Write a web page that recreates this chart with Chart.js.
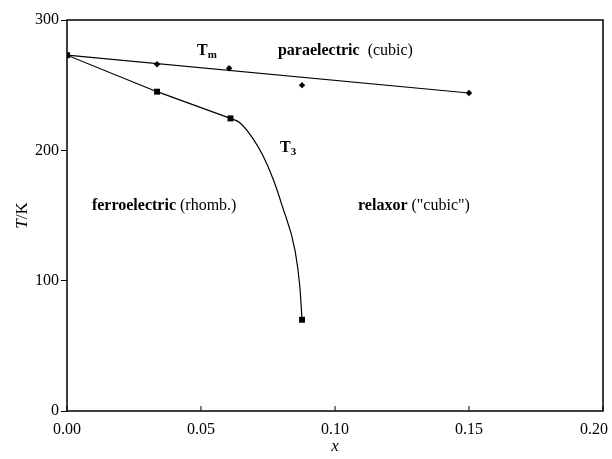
<!DOCTYPE html>
<html>
<head>
<meta charset="utf-8">
<script src="https://cdn.jsdelivr.net/npm/chart.js@4/dist/chart.umd.min.js"></script>
<style>
  html, body { margin: 0; padding: 0; background: #fff; }
  #wrap { width: 612px; height: 459px; }
</style>
</head>
<body>
<div id="wrap"><canvas id="c" width="612" height="459"></canvas></div>
<script>
// Composition x and transition temperatures (K)
const tmX = [0, 0.0336, 0.0605, 0.0877, 0.150];
const tmT = [273, 266, 263, 250, 244];

// Linear fit through the T_m data
const tmFitX = [0, 0.150];
const tmFitT = [273, 244];

const t3X = [0, 0.0336, 0.061, 0.0877];
const t3T = [273, 245, 224.5, 70];

// Smooth T_3 branch between the last two measured points
const t3CurveX = [0.061, 0.0646, 0.0694, 0.0731, 0.0769, 0.0802, 0.0851, 0.0869, 0.0877];
const t3CurveT = [224.5, 221, 209, 196, 178, 158, 123, 95, 70];

const xTicks = [0, 0.05, 0.10, 0.15, 0.20];
const xTickLabels = ['0.00', '0.05', '0.10', '0.15', '0.20'];
const yTicks = [0, 100, 200, 300];

const SERIF = '"Liberation Serif", "Times New Roman", serif';

const pts = (xs, ys) => xs.map((x, i) => ({ x: x, y: ys[i] }));

// Region labels anchored in data coordinates
const regionLabels = [
  { x: 0.0485, y: 273, bold: 'T', sub: 'm', normal: '' },
  { x: 0.0787, y: 273, bold: 'paraelectric', normal: '  (cubic)' },
  { x: 0.0795, y: 199, bold: 'T', sub: '3', normal: '' },
  { x: 0.0093, y: 154, bold: 'ferroelectric', normal: ' (rhomb.)' },
  { x: 0.1086, y: 154, bold: 'relaxor', normal: ' ("cubic")' }
];

const decor = {
  id: 'decor',
  afterDraw(chart) {
    const { ctx, chartArea: a, scales } = chart;
    const xs = scales.x, ys = scales.y;
    ctx.save();
    // frame
    ctx.strokeStyle = '#000';
    ctx.lineWidth = 1.5;
    ctx.strokeRect(a.left, a.top, a.right - a.left, a.bottom - a.top);
    // inward x ticks and their labels
    ctx.lineWidth = 1;
    ctx.fillStyle = '#000';
    ctx.font = '16px ' + SERIF;
    ctx.textBaseline = 'alphabetic';
    ctx.textAlign = 'center';
    xTicks.forEach((v, i) => {
      const px = xs.getPixelForValue(v);
      ctx.beginPath();
      ctx.moveTo(px, a.bottom);
      ctx.lineTo(px, a.bottom - 5);
      ctx.stroke();
      const w = ctx.measureText(xTickLabels[i]).width;
      const cx = Math.min(px, chart.width - 4 - w / 2);
      ctx.fillText(xTickLabels[i], cx, a.bottom + 23);
    });
    ctx.textAlign = 'left';
    // region labels
    regionLabels.forEach(l => {
      let px = xs.getPixelForValue(l.x);
      const py = ys.getPixelForValue(l.y);
      ctx.font = 'bold 16px ' + SERIF;
      ctx.fillText(l.bold, px, py);
      px += ctx.measureText(l.bold).width;
      if (l.sub) {
        ctx.font = 'bold 11px ' + SERIF;
        ctx.fillText(l.sub, px, py + 3);
        px += ctx.measureText(l.sub).width;
      }
      if (l.normal) {
        ctx.font = '16px ' + SERIF;
        ctx.fillText(l.normal, px, py);
      }
    });
    // y axis title "T/K"
    ctx.translate(27, (a.top + a.bottom) / 2);
    ctx.rotate(-Math.PI / 2);
    ctx.font = 'italic 17px ' + SERIF;
    const w1 = ctx.measureText('T').width;
    ctx.font = '17px ' + SERIF;
    const w2 = ctx.measureText('/K').width;
    const sx = -(w1 + w2) / 2;
    ctx.font = 'italic 17px ' + SERIF;
    ctx.fillText('T', sx, 0);
    ctx.font = '17px ' + SERIF;
    ctx.fillText('/K', sx + w1, 0);
    ctx.restore();
  }
};

new Chart(document.getElementById('c'), {
  type: 'scatter',
  data: {
    datasets: [
      {
        label: 'Tm fit',
        data: pts(tmFitX, tmFitT),
        showLine: true,
        borderColor: '#000',
        borderWidth: 1.2,
        pointRadius: 0
      },
      {
        label: 'Tm',
        data: pts(tmX, tmT),
        showLine: false,
        pointStyle: 'rectRot',
        pointRadius: 3.2,
        backgroundColor: '#000',
        borderColor: '#000',
        borderWidth: 0
      },
      {
        label: 'T3 curve',
        data: pts(t3CurveX, t3CurveT),
        showLine: true,
        cubicInterpolationMode: 'monotone',
        borderColor: '#000',
        borderWidth: 1.2,
        pointRadius: 0
      },
      {
        label: 'T3',
        data: pts(t3X.slice(0, 3), t3T.slice(0, 3)),
        showLine: true,
        borderColor: '#000',
        borderWidth: 1.2,
        pointStyle: 'rect',
        pointRadius: 4.2,
        backgroundColor: '#000',
        pointBorderWidth: 0
      },
      {
        label: 'T3 end',
        data: pts(t3X.slice(3), t3T.slice(3)),
        showLine: false,
        pointStyle: 'rect',
        pointRadius: 4.2,
        backgroundColor: '#000',
        borderWidth: 0
      }
    ]
  },
  options: {
    responsive: false,
    animation: false,
    events: [],
    layout: { padding: { top: 20, right: 9, left: 0, bottom: 0 } },
    plugins: { legend: { display: false }, tooltip: { enabled: false } },
    scales: {
      x: {
        type: 'linear',
        min: 0, max: 0.20,
        afterBuildTicks: s => { s.ticks = xTicks.map(v => ({ value: v })); },
        afterFit: s => { s.height = 48; s.paddingLeft = 0; s.paddingRight = 0; },
        grid: { display: false },
        border: { display: false },
        ticks: { display: false },
        title: {
          display: true,
          text: 'x',
          color: '#000',
          font: { family: SERIF, size: 17, style: 'italic' },
          padding: { top: 0, bottom: 2 }
        }
      },
      y: {
        type: 'linear',
        min: 0, max: 300,
        afterBuildTicks: s => { s.ticks = yTicks.map(v => ({ value: v })); },
        afterFit: s => { s.width = 67; s.paddingTop = 0; s.paddingBottom = 0; },
        grid: { drawOnChartArea: false, drawTicks: true, tickLength: 6, color: '#000', lineWidth: 1 },
        border: { display: false },
        ticks: {
          color: '#000',
          font: { family: SERIF, size: 16 },
          padding: 2
        }
      }
    }
  },
  plugins: [decor]
});
</script>
</body>
</html>
